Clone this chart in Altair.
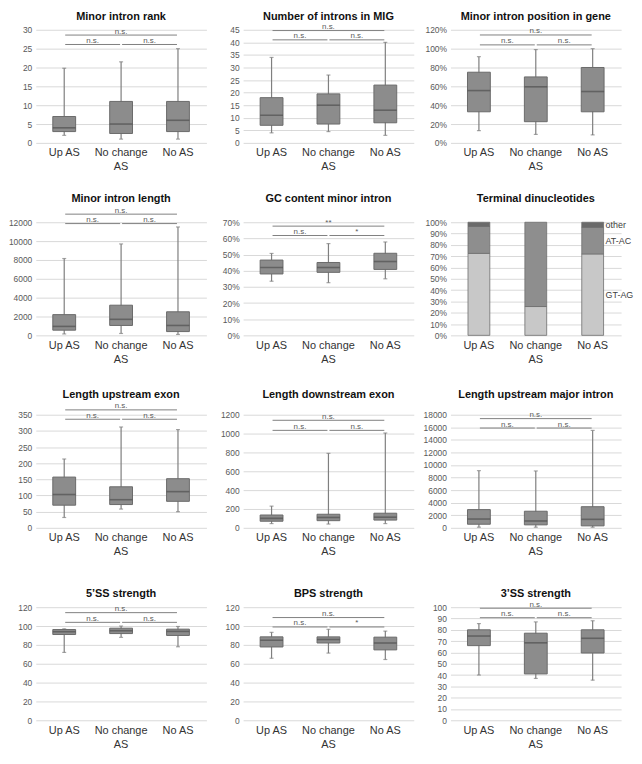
import altair as alt
import pandas as pd

CATS = ["Up AS", "No change AS", "No AS"]

# box statistics per group: [low whisker, Q1, median, Q3, high whisker]
rank = [[2, 3, 4, 7, 19.8], [1, 2.5, 5, 11, 21.5], [1, 3, 6, 11, 25]]
introns = [[4, 7, 11, 18, 34], [4.5, 7.5, 15, 19.5, 27], [3, 8, 13, 23, 40]]
position = [[0.13, 0.33, 0.555, 0.75, 0.915], [0.09, 0.225, 0.595, 0.70, 0.99], [0.085, 0.33, 0.545, 0.80, 1.0]]
length = [[150, 550, 950, 2200, 8150], [200, 1050, 1700, 3200, 9700], [100, 400, 1050, 2500, 11500]]
gc = [[0.335, 0.38, 0.42, 0.466, 0.507], [0.326, 0.39, 0.42, 0.451, 0.568], [0.35, 0.408, 0.457, 0.508, 0.578]]
up_exon = [[32, 70, 103, 157, 213], [58, 72, 87, 127, 312], [50, 82, 112, 152, 304]]
down_exon = [[45, 70, 100, 136, 230], [40, 76, 110, 144, 790], [45, 82, 113, 155, 1006]]
up_major = [[100, 570, 1400, 2900, 9100], [100, 470, 1090, 2640, 9050], [100, 310, 1350, 3360, 15500]]
ss5 = [[72, 91, 94, 96.3, 97], [88, 92, 95, 97.7, 100], [78, 90, 94.3, 96.7, 99.5]]
bps = [[65.8, 77.8, 85, 88.5, 93.3], [71.3, 82, 85.7, 88.5, 96.5], [64.5, 74.7, 82, 88.2, 94.6]]
ss3 = [[40, 66, 74.5, 80, 85.5], [37, 41, 68.5, 77, 87], [35.5, 59.5, 72.5, 80, 88]]

# terminal dinucleotides (share of introns)
DINUC = ["GT-AG", "AT-AC", "other"]
gt_ag = [0.725, 0.255, 0.72]
at_ac = [0.238, 0.745, 0.235]
other = [0.037, 0.0, 0.045]

# significance labels: [Up AS vs No AS, Up AS vs No change, No change vs No AS]
SIG_NS = ["n.s.", "n.s.", "n.s."]
SIG_GC = ["**", "n.s.", "*"]
SIG_BPS = ["n.s.", "n.s.", "*"]
# bracket heights (data units): [upper bracket, lower brackets]
lv_rank = [28.6, 26.1]
lv_introns = [44.7, 41]
lv_position = [1.145, 1.04]
lv_length = [12860, 11860]
lv_gc = [0.676, 0.618]
lv_up_exon = [365, 336]
lv_down_exon = [1141, 1034]
lv_up_major = [17380, 15880]
lv_ss5 = [114.2, 103.9]
lv_bps = [109, 99]
lv_ss3 = [99.1, 90.7]

TITLES = ["Minor intron rank", "Number of introns in MIG", "Minor intron position in gene",
          "Minor intron length", "GC content minor intron", "Terminal dinucleotides",
          "Length upstream exon", "Length downstream exon", "Length upstream major intron",
          "5\u2019SS strength", "BPS strength", "3\u2019SS strength"]

W, H = 172, 114
TITLE_Y = [-13, -23, -20, -13.5]
BOX_FILL = "#8c8c8c"
BOX_STROKE = "#6a6a6a"
MED = "#505050"
WHISK = "#7f7f7f"
BRACKET = "#808080"
GRID = "#d9d9d9"

XS = alt.Scale(domain=CATS, paddingInner=0, paddingOuter=0)
XAXIS = alt.Axis(title=None, domain=False, ticks=False, tickSize=0, grid=False, labelAngle=0,
                 labelFontSize=11, labelColor="#333333", labelPadding=4, labelLineHeight=14,
                 labelExpr="datum.label == 'No change AS' ? ['No change', 'AS'] : datum.label")


def yaxis(ticks, fmt):
    return alt.Axis(title=None, values=ticks, format=fmt, grid=True, gridColor=GRID, gridWidth=1,
                    domain=False, ticks=False, tickSize=0, labelFontSize=8.5, labelColor="#595959",
                    labelPadding=4)


def tick_values(ymax, step):
    n = int(round(ymax / step))
    return [round(i * step, 6) for i in range(n + 1)]


def xnom(field, **kw):
    return alt.X(f"{field}:N", sort=CATS, scale=XS, axis=XAXIS, title=None, **kw)


def title_layer(title, row):
    return alt.Chart(pd.DataFrame({"t": [title]})).mark_text(
        fontSize=11, fontWeight="bold", color="#111111", baseline="middle"
    ).encode(text="t:N", x=alt.value(W / 2), y=alt.value(TITLE_Y[row]))


def box_panel(title, stats, ymax, step, fmt, sig, levels, row):
    df = pd.DataFrame({
        "cat": CATS,
        "low": [s[0] for s in stats], "q1": [s[1] for s in stats],
        "med": [s[2] for s in stats], "q3": [s[3] for s in stats],
        "high": [s[4] for s in stats],
    })
    ys = alt.Scale(domain=[0, ymax], nice=False, zero=True)
    ya = yaxis(tick_values(ymax, step), fmt)

    def yq(field):
        return alt.Y(f"{field}:Q", scale=ys, axis=ya, title=None)

    base = alt.Chart(df)
    whisk = base.mark_rule(color=WHISK, strokeWidth=1.2).encode(
        x=xnom("cat"), y=yq("low"), y2=alt.Y2("high:Q"),
    )
    caps = base.transform_fold(["low", "high"]).mark_tick(
        orient="horizontal", size=4, thickness=1.2, color=WHISK
    ).encode(x=xnom("cat"), y=yq("value"))
    box = base.mark_bar(width=23, color=BOX_FILL, stroke=BOX_STROKE, strokeWidth=1).encode(
        x=xnom("cat"), y=yq("q1"), y2=alt.Y2("q3:Q")
    )
    med = base.mark_tick(orient="horizontal", size=23, thickness=1.6, color=MED).encode(
        x=xnom("cat"), y=yq("med")
    )
    bdf = pd.DataFrame({
        "x1": ["Up AS", "Up AS", "No change AS"],
        "x2": ["No AS", "No change AS", "No AS"],
        "mid": ["No change AS", "Up AS", "No change AS"],
        "y": [levels[0], levels[1], levels[1]],
        "label": sig,
        "kind": ["top", "low", "low"],
    })
    bbase = alt.Chart(bdf)
    rules = bbase.mark_rule(color=BRACKET, strokeWidth=1, xOffset=1, x2Offset=-1).encode(
        x=xnom("x1"), x2=alt.X2("x2"), y=yq("y")
    )
    txt_kw = dict(fontSize=8, color="#595959", baseline="alphabetic", dy=-1.5)
    t_top = bbase.transform_filter("datum.kind == 'top'").mark_text(**txt_kw).encode(
        x=xnom("mid", bandPosition=0.5), y=yq("y"), text="label:N"
    )
    t_low = bbase.transform_filter("datum.kind == 'low'").mark_text(**txt_kw).encode(
        x=xnom("mid", bandPosition=1), y=yq("y"), text="label:N"
    )
    return alt.layer(whisk, caps, box, med, rules, t_top, t_low, title_layer(title, row)).properties(
        width=W, height=H
    )


def dinuc_panel(title, row):
    rows = []
    for i, c in enumerate(CATS):
        for j, (name, vals) in enumerate(zip(DINUC, [gt_ag, at_ac, other])):
            rows.append({"cat": c, "type": name, "val": vals[i], "ord": j})
    ddf = pd.DataFrame(rows)
    ys = alt.Scale(domain=[0, 1], nice=False, zero=True)
    ya = yaxis(tick_values(1, 0.1), ".0%")
    bars = alt.Chart(ddf).transform_filter("datum.val > 0").mark_bar(
        width=22, stroke="#6e6e6e", strokeWidth=0.8
    ).encode(
        x=xnom("cat"),
        y=alt.Y("val:Q", stack="zero", scale=ys, axis=ya, title=None),
        color=alt.Color("type:N", scale=alt.Scale(domain=DINUC, range=["#c8c8c8", "#8e8e8e", "#6a6a6a"]),
                        legend=None),
        order=alt.Order("ord:Q", sort="ascending"),
    )
    labels = alt.Chart(ddf).transform_stack(
        stack="val", groupby=["cat"], as_=["v0", "v1"], sort=[alt.SortField("ord", order="ascending")]
    ).transform_filter("datum.cat == 'No AS'").transform_calculate(
        ymid="(datum.v0 + datum.v1) / 2"
    ).mark_text(align="left", dx=13, fontSize=9, color="#404040").encode(
        x=xnom("cat"), y=alt.Y("ymid:Q", scale=ys, axis=ya, title=None), text="type:N"
    )
    return alt.layer(bars, labels, title_layer(title, row)).properties(width=W, height=H)


panels = [
    box_panel(TITLES[0], rank, 30, 5, "d", SIG_NS, lv_rank, 0),
    box_panel(TITLES[1], introns, 45, 5, "d", SIG_NS, lv_introns, 0),
    box_panel(TITLES[2], position, 1.2, 0.2, ".0%", SIG_NS, lv_position, 0),
    box_panel(TITLES[3], length, 12000, 2000, "d", SIG_NS, lv_length, 1),
    box_panel(TITLES[4], gc, 0.7, 0.1, ".0%", SIG_GC, lv_gc, 1),
    dinuc_panel(TITLES[5], 1),
    box_panel(TITLES[6], up_exon, 350, 50, "d", SIG_NS, lv_up_exon, 2),
    box_panel(TITLES[7], down_exon, 1200, 200, "d", SIG_NS, lv_down_exon, 2),
    box_panel(TITLES[8], up_major, 18000, 2000, "d", SIG_NS, lv_up_major, 2),
    box_panel(TITLES[9], ss5, 120, 20, "d", SIG_NS, lv_ss5, 3),
    box_panel(TITLES[10], bps, 120, 20, "d", SIG_BPS, lv_bps, 3),
    box_panel(TITLES[11], ss3, 100, 10, "d", SIG_NS, lv_ss3, 3),
]

chart = alt.concat(
    *panels, columns=3, spacing={"row": 80, "column": 37}, bounds="flush"
).properties(padding=0).configure(font="Liberation Sans").configure_view(strokeWidth=0)

chart.save("out.html", embed_options={"renderer": "svg", "actions": False})
